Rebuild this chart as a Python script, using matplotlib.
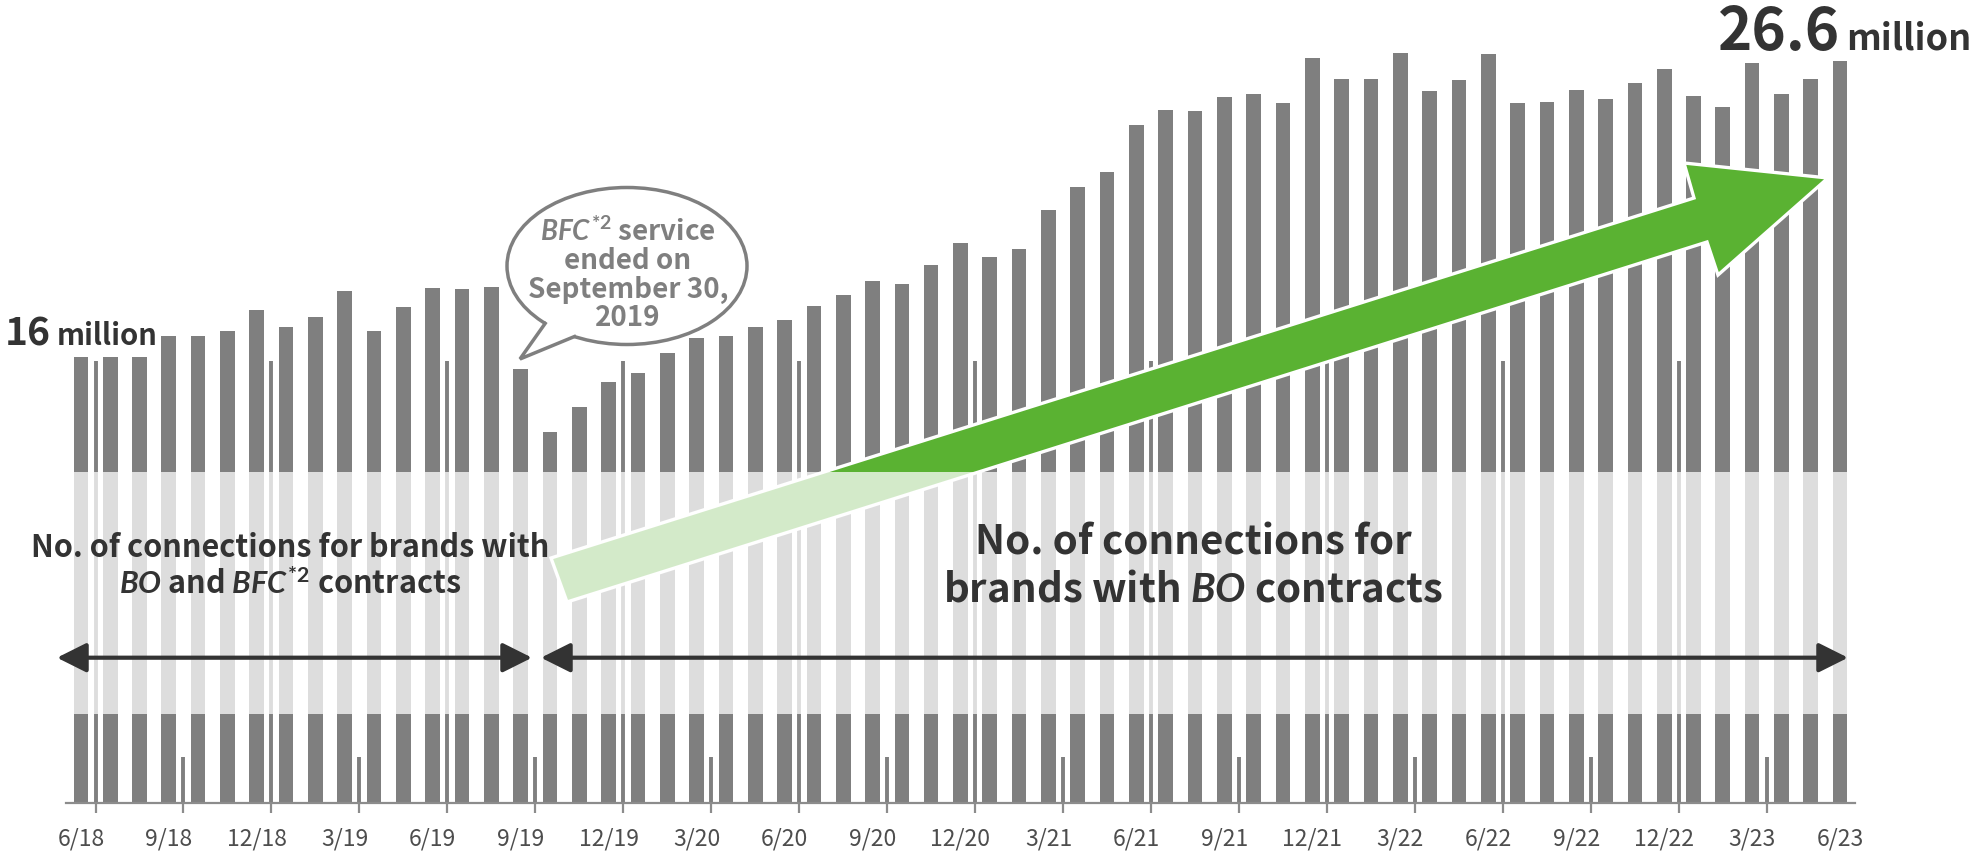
import matplotlib
matplotlib.use("Agg")
import numpy as np
import matplotlib.pyplot as plt
from matplotlib.patches import Ellipse, Polygon

plt.rcParams["font.family"] = ["Noto Sans CJK JP", "DejaVu Sans"]
plt.rcParams["mathtext.fontset"] = "custom"
plt.rcParams["mathtext.it"] = "Lato:italic:bold"
plt.rcParams["mathtext.rm"] = "Lato:bold"
plt.rcParams["mathtext.bf"] = "Lato:bold"

# monthly data, 6/18 .. 6/23 (million connections)
months = [f"{m}/{y}" for y in range(18, 24) for m in range(1, 13)][5:66]
connections = [
    16.0, 16.0, 16.0, 16.76, 16.74, 16.92, 17.66,                       # 2018
    17.05, 17.44, 18.34, 16.92, 17.78, 18.47, 18.43, 18.5, 15.56,       # 2019
    13.29, 14.21, 15.1,
    15.42, 16.14, 16.67, 16.74, 17.06, 17.31, 17.81, 18.2, 18.7,        # 2020
    18.6, 19.29, 20.07,
    19.57, 19.87, 21.26, 22.09, 22.61, 24.32, 24.84, 24.8, 25.33,       # 2021
    25.44, 25.09, 26.73,
    25.96, 25.96, 26.9, 25.53, 25.92, 26.85, 25.09, 25.13, 25.57,       # 2022
    25.23, 25.81, 26.32,
    25.35, 24.96, 26.54, 25.42, 25.96, 26.6,                            # 2023
]
tick_labels = months[::3]
divider_long = 15.86   # thin separator lines between half-years
divider_short = 1.64   # thin separator lines at quarter ends

BAR = "#7f7f7f"
DARK = "#333333"
GREEN = "#5ab232"

fig = plt.figure(figsize=(19.7, 8.55), dpi=100)
ax = fig.add_axes([0.0336, 0.0612, 0.9079, 0.9291])

x = list(range(len(months)))
ax.bar(x, connections, width=0.5, color=BAR, zorder=2)

long_x = [i + 0.5 for i in range(0, len(months) - 1, 6)]
short_x = [i + 0.5 for i in range(3, len(months) - 1, 6)]
ax.vlines(long_x, 0, divider_long, color=BAR, lw=2.8, zorder=1)
ax.vlines(short_x, 0, divider_short, color=BAR, lw=2.8, zorder=1)

ax.set_xlim(-0.5, len(months) - 0.5)
ax.set_ylim(0, 28.5)
ax.set_xticks(x[::3])
ax.set_xticklabels(tick_labels, fontsize=16.5, color="#4d4d4d")
ax.set_xticks(long_x + short_x, minor=True)
ax.tick_params(axis="x", which="major", length=0, pad=18)
ax.tick_params(axis="x", which="minor", length=7.5, width=1.6, color="#8c8c8c")
ax.set_yticks([])
for s in ["left", "right", "top"]:
    ax.spines[s].set_visible(False)
ax.spines["bottom"].set_color("#8c8c8c")
ax.spines["bottom"].set_linewidth(1.6)

# overlay in pixel coordinates for the annotations
ov = fig.add_axes([0, 0, 1, 1])
ov.set_xlim(0, 1970)
ov.set_ylim(855, 0)
ov.axis("off")
ov.patch.set_visible(False)

# big green growth arrow
arrow_pts = [(551, 558), (1694, 198), (1684, 163), (1828, 178),
             (1718, 275), (1707, 242), (567, 602)]
ov.add_patch(Polygon(arrow_pts, closed=True, facecolor=GREEN,
                     edgecolor="white", lw=2.4, joinstyle="miter", zorder=2))

# light band across the middle
ov.axhspan(471.7, 713.7, color="white", alpha=0.74, lw=0, zorder=3)

# speech bubble
cx, cy, rx, ry = 627, 266, 120, 78.5
ov.add_patch(Ellipse((cx, cy), 2 * rx, 2 * ry, facecolor="white",
                     edgecolor=BAR, lw=2.5, zorder=4))


def on_ellipse(deg, r=1.0):
    t = np.radians(deg)
    return (cx + r * rx * np.cos(t), cy + r * ry * np.sin(t))


tip = (520, 359)
b1, b2 = on_ellipse(133), on_ellipse(116)
cover = [b1, tip, b2] + [on_ellipse(a, 0.93) for a in np.linspace(116, 133, 8)]
ov.add_patch(Polygon(cover, closed=True, facecolor="white",
                     edgecolor="none", zorder=4.5))
ov.plot([b1[0], tip[0], b2[0]], [b1[1], tip[1], b2[1]], color=BAR, lw=2.5,
        solid_joinstyle="miter", zorder=4.6)
bubble = [r"$\mathit{BFC}^{\mathit{*2}}$ service", "ended on",
          "September 30,", "2019"]
for txt, yy in zip(bubble, [232, 261, 290, 318]):
    ov.text(628, yy, txt, ha="center", va="center", fontsize=20,
            fontweight="bold", color=BAR, zorder=5)

# start / end values
ov.text(51, 345, "16", ha="right", va="baseline", fontsize=28,
        fontweight="bold", color=DARK, zorder=5)
ov.text(57, 345, "million", ha="left", va="baseline", fontsize=21,
        fontweight="bold", color=DARK, zorder=5)
ov.text(1840, 50, "26.6", ha="right", va="baseline", fontsize=42,
        fontweight="bold", color=DARK, zorder=5)
ov.text(1846, 50, "million", ha="left", va="baseline", fontsize=26,
        fontweight="bold", color=DARK, zorder=5)

# period labels
ov.text(290, 548, "No. of connections for brands with", ha="center",
        va="center", fontsize=22, fontweight="bold", color=DARK, zorder=5)
ov.text(290, 585, r"$\mathit{BO}$ and $\mathit{BFC}^{\mathit{*2}}$ contracts",
        ha="center", va="center", fontsize=22, fontweight="bold",
        color=DARK, zorder=5)
ov.text(1193, 543, "No. of connections for", ha="center", va="center",
        fontsize=29, fontweight="bold", color=DARK, zorder=5)
ov.text(1193, 590, r"brands with $\mathit{BO}$ contracts", ha="center",
        va="center", fontsize=29, fontweight="bold", color=DARK, zorder=5)

# period spans
for x0, x1 in [(57, 532), (541, 1848)]:
    ov.annotate("", xy=(x1, 657.7), xytext=(x0, 657.7),
                arrowprops=dict(arrowstyle="<|-|>,head_length=18,head_width=9",
                                mutation_scale=1, lw=3, color=DARK,
                                shrinkA=0, shrinkB=0),
                zorder=5)

fig.savefig("out.png", dpi=100)
